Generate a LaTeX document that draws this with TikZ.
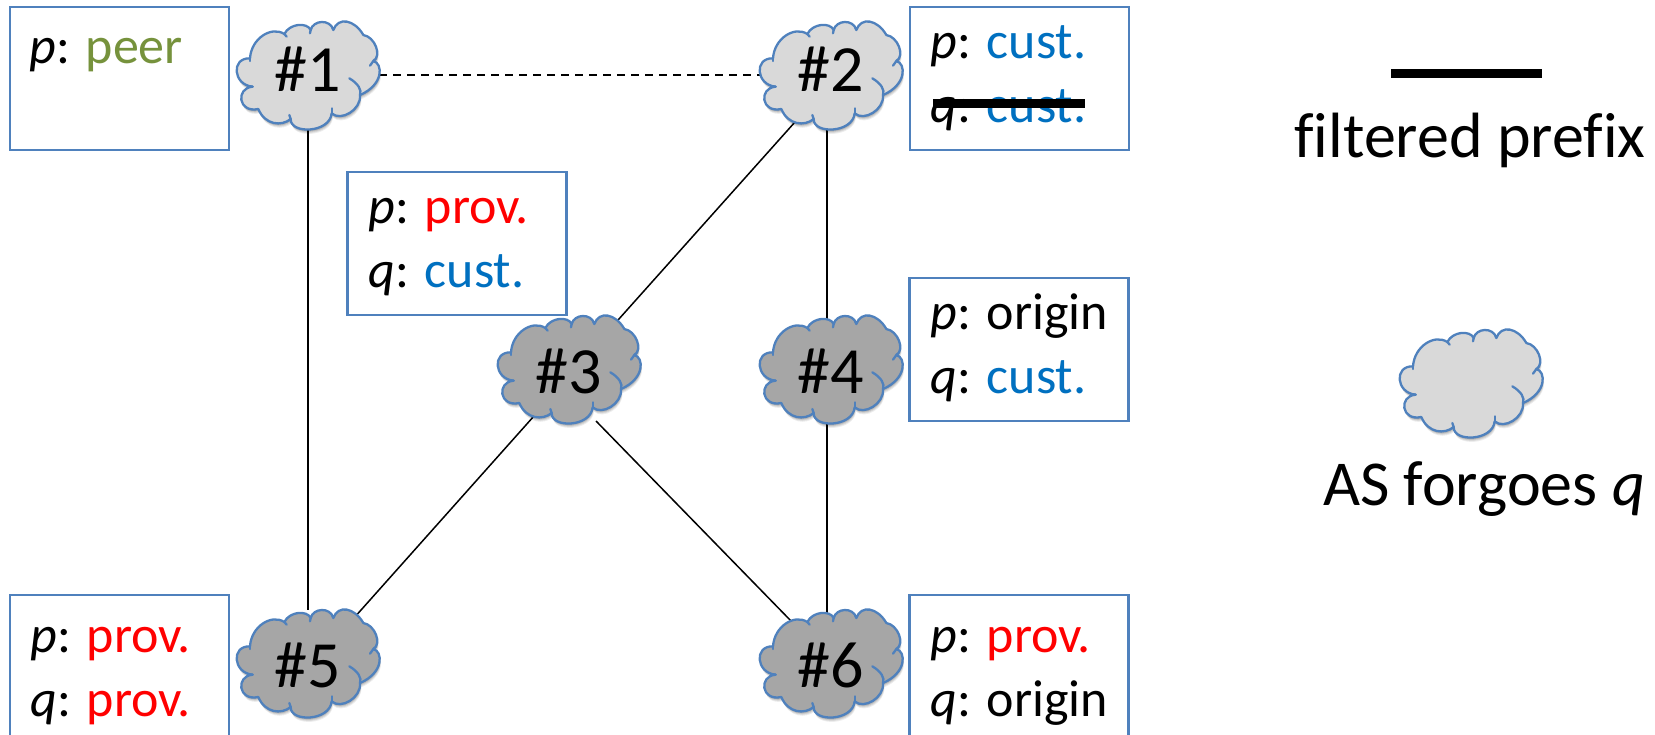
\documentclass[tikz,border=0pt]{standalone}
\usepackage{fontspec}
\setmainfont[Ligatures=NoCommon]{Carlito}
\usetikzlibrary{backgrounds,shapes.geometric}
\definecolor{boxblue}{HTML}{4F81BD}
\definecolor{custblue}{HTML}{0070C0}
\definecolor{peergreen}{HTML}{76923C}
\definecolor{lightcloud}{HTML}{D9D9D9}
\definecolor{darkcloud}{HTML}{A6A6A6}
\newcommand{\cloudoutline}{
 (-174,-50) .. controls (-170,-110) and (-110,-148) .. (-71,-123)
 .. controls (-55,-155) and (-3,-159) .. (8,-135)
 .. controls (15,-165) and (67,-169) .. (76,-135)
 .. controls (90,-175) and (139,-167) .. (166,-120)
 .. controls (200,-115) and (223,-58) .. (196,-42)
 .. controls (225,-35) and (228,29) .. (156,60)
 .. controls (160,105) and (98,140) .. (71,115)
 .. controls (65,175) and (-54,178) .. (-52,132)
 .. controls (-80,155) and (-129,150) .. (-149,102)
 .. controls (-210,115) and (-218,39) .. (-166,35)
 .. controls (-225,30) and (-232,-52) .. (-174,-50) -- cycle}
\tikzset{
 pics/cloudshape/.style={code={
  \begin{scope}[x=0.1667pt,y=-0.1667pt]
   \foreach \d/\o in {13/0.07,10/0.09,7/0.11,4/0.13}{
    \fill[black,opacity=\o] [shift={(\d*0.3,\d)}] \cloudoutline;
   }
   \fill[#1] \cloudoutline;
   \draw[cloudline] \cloudoutline;
   \draw[cloudline] (124,10) .. controls (150,25) and (162,45) .. (156,60);
   \draw[cloudline] (71,115) -- (71,100);
   \draw[cloudline] (196,-42) -- (186,-28);
   \draw[cloudline] (-71,-123) -- (-64,-115);
   \draw[cloudline] (8,-135) -- (6,-125);
   \draw[cloudline] (-52,132) -- (-56,120);
   \draw[cloudline] (-166,35) -- (-176,34);
   \draw[cloudline] (-174,-50) -- (-174,-42);
  \end{scope}}},
 cloudline/.style={boxblue,line width=1.15pt,line join=round,line cap=round},
 anchorshape/.style={ellipse,minimum width=71pt,minimum height=53pt,inner sep=0pt,outer sep=0pt,text height=21pt,text depth=5pt,font=\fontsize{33}{33}\selectfont},
 lowtext/.style={text height=29pt},
 infobox/.style={draw=boxblue,line width=1.1pt,fill=white,minimum width=109.5pt,minimum height=71.5pt,inner sep=0pt,outer sep=0pt},
 infotext/.style={anchor=base west,font=\fontsize{26}{26}\selectfont,inner sep=0pt},
 link/.style={black,line width=0.75pt},
 legendtext/.style={anchor=base,font=\fontsize{32}{32}\selectfont,inner sep=0pt},
 heavy/.style={black,line width=4.5pt},
}
\begin{document}
\begin{tikzpicture}[x=0.5pt,y=-0.5pt]
\useasboundingbox (0,0) rectangle (1655,734);
% boxes
\node[infobox] (b1) at (119.5,78.5) {};
\node[infobox] (b2) at (1019.5,78.5) {};
\node[infobox] (b3) at (457,243.5) {};
\node[infobox] (b4) at (1019,349.5) {};
\node[infobox] (b5) at (119.5,666.5) {};
\node[infobox] (b6) at (1019,666.5) {};
% clouds
\pic at (308,75) {cloudshape=lightcloud};
\pic at (831,75) {cloudshape=lightcloud};
\pic at (569,369) {cloudshape=darkcloud};
\pic at (831,369) {cloudshape=darkcloud};
\pic at (308,663) {cloudshape=darkcloud};
\pic at (831,663) {cloudshape=darkcloud};
\pic at (1471,383) {cloudshape=lightcloud};
\node[anchorshape] (n1) at (308,75) {\#1};
\node[anchorshape] (n2) at (831,75) {\#2};
\node[anchorshape,lowtext] (n3) at (569,369) {\#3};
\node[anchorshape,lowtext] (n4) at (831,369) {\#4};
\node[anchorshape,lowtext] (n5) at (308,663) {\#5};
\node[anchorshape,lowtext] (n6) at (831,663) {\#6};
% labels
\node[infotext] (t1a) at (29,63) {\textit{p}: \textcolor{peergreen}{peer}};
\node[infotext] (t2a) at (930,58) {\textit{p}: \textcolor{custblue}{cust.}};
\node[infotext] (t2b) at (930,122) {\textit{q}: \textcolor{custblue}{cust.}};
\node[infotext] (t3a) at (368,223) {\textit{p}: \textcolor{red}{prov.}};
\node[infotext] (t3b) at (368,287) {\textit{q}: \textcolor{custblue}{cust.}};
\node[infotext] (t4a) at (930,329) {\textit{p}: origin};
\node[infotext] (t4b) at (930,393) {\textit{q}: \textcolor{custblue}{cust.}};
\node[infotext] (t5a) at (30,652) {\textit{p}: \textcolor{red}{prov.}};
\node[infotext] (t5b) at (30,716) {\textit{q}: \textcolor{red}{prov.}};
\node[infotext] (t6a) at (930,652) {\textit{p}: \textcolor{red}{prov.}};
\node[infotext] (t6b) at (930,716) {\textit{q}: origin};
\draw[heavy] ([shift={(3,-19)}]t2b.base west) -- ([shift={(-2,-19)}]t2b.base east);
% legend
\coordinate (la) at (1391,73);
\coordinate (lb) at (1542,73);
\draw[heavy] (la) -- (lb);
\node[legendtext] (l1) at (1470,157) {filtered prefix};
\node[legendtext] (l2) at (1484,505) {AS forgoes \textit{q}};
% connectors
\begin{scope}[on background layer]
\draw[link,dash pattern=on 4pt off 3pt] (n1) -- (n2);
\draw[link] (n1) -- (n5);
\draw[link] ([shift={(-4,0)}]n2.center) -- ([shift={(-4,0)}]n4.center);
\draw[link] ([shift={(-4,0)}]n4.center) -- ([shift={(-4,0)}]n6.center);
\draw[link] ([shift={(-36,47)}]n2.center) -- ([shift={(41,-40)}]n3.center);
\draw[link] ([shift={(-35,47)}]n3.center) -- ([shift={(37,-35)}]n5.center);
\draw[link] ([shift={(27,52)}]n3.center) -- ([shift={(-38,-40)}]n6.center);
\end{scope}
\end{tikzpicture}
\end{document}
